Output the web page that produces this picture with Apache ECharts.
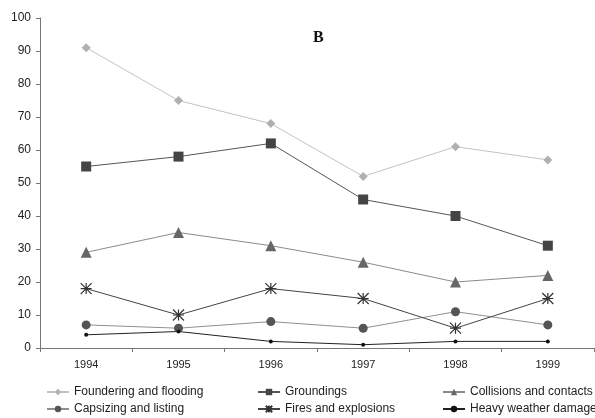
<!DOCTYPE html>
<html>
<head>
<meta charset="utf-8">
<script src="https://cdn.jsdelivr.net/npm/echarts@6/dist/echarts.min.js"></script>
<style>
html,body{margin:0;padding:0;background:#fff;}
#chart{width:595px;height:418px;}
</style>
</head>
<body>
<div id="chart"></div>
<script>
const years = ['1994', '1995', '1996', '1997', '1998', '1999']
const foundering = [91, 75, 68, 52, 61, 57]
const groundings = [55, 58, 62, 45, 40, 31]
const collisions = [29, 35, 31, 26, 20, 22]
const capsizing = [7, 6, 8, 6, 11, 7]
const fires = [18, 10, 18, 15, 6, 15]
const heavyWeather = [4, 5, 2, 1, 2, 2]

const names = ['Foundering and flooding', 'Groundings', 'Collisions and contacts',
  'Capsizing and listing', 'Fires and explosions', 'Heavy weather damage']

const star = 'path://M0,0L10,10M10,0L0,10M5,0L5,10M0,5L10,5'

const mychart = echarts.init(document.getElementById('chart'))

function line(name, data, symbol, size, fill, lineColor, extra) {
  return Object.assign({
    name: name,
    type: 'line',
    data: data,
    symbol: symbol,
    symbolSize: size,
    itemStyle: { color: fill },
    lineStyle: { color: lineColor, width: 1 },
    emphasis: { disabled: true },
    animation: false
  }, extra || {})
}

// one vertical legend per column, two rows each
const legendBase = {
  orient: 'vertical',
  padding: 0,
  height: 40,
  itemWidth: 22,
  itemHeight: 8,
  itemGap: 5,
  top: 386,
  textStyle: { fontFamily: 'Liberation Sans', fontSize: 12, color: '#222' }
}

const option = {
  title: {
    text: 'B',
    left: 308,
    top: 25,
    textStyle: { fontFamily: 'Liberation Serif', fontSize: 16, fontWeight: 'bold', color: '#111' }
  },
  grid: { left: 40, right: 1, top: 18, bottom: 70 },
  legend: [
    Object.assign({ left: 46, data: [names[0], names[3]] }, legendBase),
    Object.assign({ left: 257, data: [names[1], names[4]] }, legendBase),
    Object.assign({ left: 442, data: [names[2], names[5]] }, legendBase)
  ],
  xAxis: {
    type: 'category',
    data: years,
    boundaryGap: true,
    axisLine: { lineStyle: { color: '#777' } },
    axisTick: { show: true, length: 4, lineStyle: { color: '#777' } },
    axisLabel: { fontFamily: 'Liberation Sans', fontSize: 11, color: '#222', margin: 11 }
  },
  yAxis: {
    type: 'value',
    min: 0,
    max: 100,
    interval: 10,
    splitLine: { show: false },
    axisLine: { show: true, lineStyle: { color: '#777' } },
    axisTick: { show: true, length: 4, lineStyle: { color: '#777' } },
    axisLabel: { fontFamily: 'Liberation Sans', fontSize: 12, color: '#222', margin: 9 }
  },
  series: [
    line(names[0], foundering, 'diamond', 9, '#b0b0b0', '#c2c2c2'),
    line(names[1], groundings, 'rect', 10, '#444', '#555'),
    line(names[2], collisions, 'triangle', 11, '#666', '#8a8a8a'),
    line(names[3], capsizing, 'circle', 9, '#555', '#8f8f8f'),
    line(names[4], fires, star, 11, 'transparent', '#444',
      { itemStyle: { color: 'transparent', borderColor: '#333', borderWidth: 1.2 } }),
    line(names[5], heavyWeather, 'circle', 4, '#111', '#222')
  ]
}
mychart.setOption(option, true)
</script>
</body>
</html>
